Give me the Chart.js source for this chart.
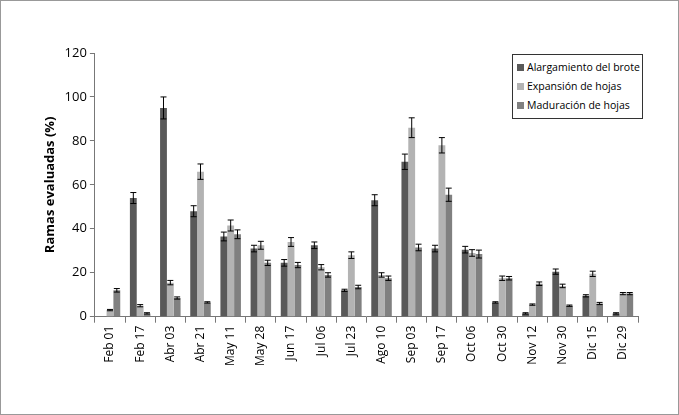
<!DOCTYPE html>
<html>
<head>
<meta charset="utf-8">
<script src="https://cdn.jsdelivr.net/npm/chart.js@4/dist/chart.umd.min.js"></script>
<style>
body { margin: 0; background: #fff; }
#wrap { position: relative; width: 677px; height: 413px; border: 1px solid #999; }
#legend { position: absolute; left: 511px; top: 53px; width: 121px; border: 1px solid #333; background: #fff; white-space: nowrap;
  font: 10.5px "Liberation Sans Narrow", "Open Sans", sans-serif; padding: 3px 4px; line-height: 19px; }
#legend span { display: inline-block; width: 7px; height: 7px; margin-right: 3px; }
</style>
</head>
<body>
<div id="wrap">
<canvas id="c" width="677" height="413"></canvas>
<div id="legend">
<div><span style="background:#595959"></span>Alargamiento del brote</div>
<div><span style="background:#b3b3b3"></span>Expansión de hojas</div>
<div><span style="background:#808080"></span>Maduración de hojas</div>
</div>
</div>
<script>
const labels = ['Feb 01','Feb 17','Abr 03','Abr 21','May 11','May 28','Jun 17','Jul 06','Jul 23','Ago 10','Sep 03','Sep 17','Oct 06','Oct 30','Nov 12','Nov 30','Dic 15','Dic 29'];
const alargamiento = [0, 54, 95, 48, 36.5, 31, 24.5, 32.5, 12, 53, 70.5, 31, 30.5, 6.5, 1.5, 20.5, 9.5, 1.5];
const expansion = [3, 5, 15.5, 66, 41.5, 32.5, 34, 22.5, 28, 19, 86, 78, 29, 17.5, 5.5, 14, 19.5, 10.5];
const maduracion = [12, 1.5, 8.5, 6.5, 37.5, 24.5, 23.5, 19, 13.5, 17.5, 31.5, 55.5, 28.5, 17.5, 15, 5, 6, 10.5];
const errAlarg = [0, 2.5, 5, 2.5, 2, 1.5, 1.5, 1.5, 0.5, 2.5, 3.5, 1.5, 1.5, 0.3, 0.3, 1.2, 0.5, 0.3];
const errExp = [0.3, 0.5, 1, 3.5, 2.5, 1.8, 2, 1.2, 1.5, 1, 4.5, 3.5, 1.5, 1, 0.3, 0.8, 1.2, 0.5];
const errMad = [0.8, 0.3, 0.5, 0.3, 2, 1.2, 1.2, 1, 0.8, 1, 1.5, 3, 1.8, 0.8, 0.8, 0.3, 0.5, 0.5];

const errorBars = {
  id: 'errorBars',
  afterDatasetsDraw(chart) {
    const ctx = chart.ctx, y = chart.scales.y;
    chart.data.datasets.forEach((ds, i) => {
      chart.getDatasetMeta(i).data.forEach((bar, j) => {
        const v = ds.data[j], e = ds.err[j];
        if (!e) return;
        const top = y.getPixelForValue(v + e), bot = y.getPixelForValue(v - e);
        ctx.save();
        ctx.strokeStyle = '#000';
        ctx.lineWidth = 1;
        ctx.beginPath();
        ctx.moveTo(bar.x, top); ctx.lineTo(bar.x, bot);
        ctx.moveTo(bar.x - 3, top); ctx.lineTo(bar.x + 3, top);
        ctx.moveTo(bar.x - 3, bot); ctx.lineTo(bar.x + 3, bot);
        ctx.stroke();
        ctx.restore();
      });
    });
  }
};

new Chart(document.getElementById('c'), {
  type: 'bar',
  data: {
    labels: labels,
    datasets: [
      { label: 'Alargamiento del brote', data: alargamiento, err: errAlarg, backgroundColor: '#595959' },
      { label: 'Expansión de hojas', data: expansion, err: errExp, backgroundColor: '#b3b3b3' },
      { label: 'Maduración de hojas', data: maduracion, err: errMad, backgroundColor: '#808080' }
    ]
  },
  options: {
    responsive: false,
    animation: false,
    layout: { padding: { left: 37, right: 40, top: 52, bottom: 45 } },
    plugins: { legend: { display: false }, tooltip: { enabled: false } },
    datasets: { bar: { categoryPercentage: 0.68, barPercentage: 1 } },
    scales: {
      x: {
        grid: { display: true, drawOnChartArea: false, offset: true, color: '#777', tickLength: 6 },
        border: { color: '#777' },
        ticks: { color: '#000', maxRotation: 90, minRotation: 90, font: { family: 'Open Sans', size: 12 } }
      },
      y: {
        min: 0, max: 120,
        ticks: { stepSize: 20, color: '#000', font: { family: 'Open Sans', size: 13 } },
        grid: { display: true, drawOnChartArea: false, color: '#777', tickLength: 5 },
        border: { color: '#777' },
        title: { display: true, text: 'Ramas evaluadas (%)', color: '#000', font: { family: 'Open Sans', size: 13, weight: 'bold' } }
      }
    }
  },
  plugins: [errorBars]
});
</script>
</body>
</html>
